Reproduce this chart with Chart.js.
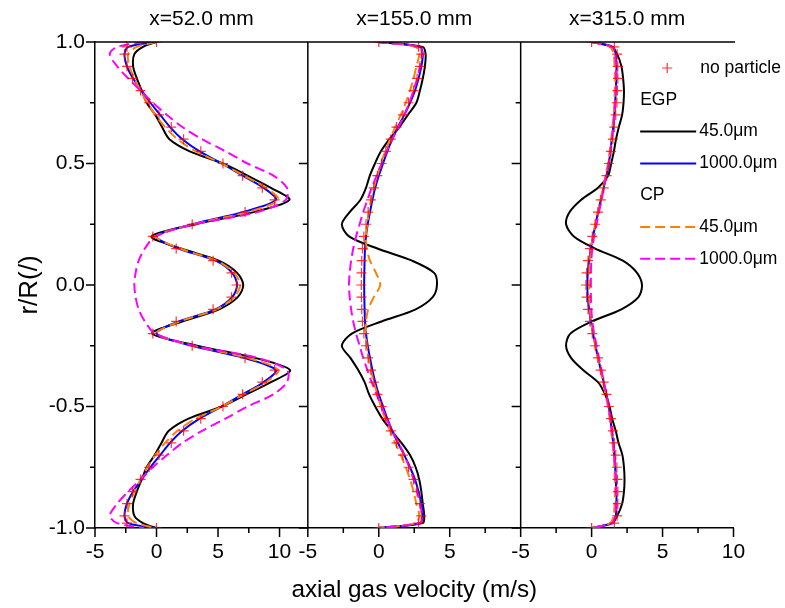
<!DOCTYPE html>
<html>
<head>
<meta charset="utf-8">
<title>axial gas velocity</title>
<script src="https://cdn.jsdelivr.net/npm/chart.js@4.4.0/dist/chart.umd.min.js"></script>
<style>
  html, body { margin: 0; padding: 0; background: #fff; }
</style>
</head>
<body>
<canvas id="myChart" width="785" height="608"></canvas>
<script>
'use strict'

// radial position r/R shared by every series (top wall to bottom wall)
const rPos = [1.0, 0.98, 0.95, 0.9, 0.85, 0.8, 0.75, 0.7, 0.65, 0.6, 0.55, 0.5, 0.45, 0.4, 0.35, 0.3, 0.25, 0.2, 0.15, 0.1, 0.05, 0.0,
  -0.05, -0.1, -0.15, -0.2, -0.25, -0.3, -0.35, -0.4, -0.45, -0.5, -0.55, -0.6, -0.65, -0.7, -0.75, -0.8, -0.85, -0.9, -0.95, -0.98, -1.0];

const panelTitles = ['x=52.0 mm', 'x=155.0 mm', 'x=315.0 mm'];
const panelMax = [12.3, 10, 10];
const xTickValues = [-5, -2.5, 0, 2.5, 5, 7.5, 10];
const yTickValues = [-1, -0.75, -0.5, -0.25, 0, 0.25, 0.5, 0.75, 1];
const xAxisTitle = 'axial gas velocity (m/s)';
const legendLabels = ['no particle', 'EGP', '45.0μm', '1000.0μm', 'CP', '45.0μm', '1000.0μm'];

// x = 52.0 mm
const egp45_52 = [0, -1.1, -1.8, -1.9, -1.6, -1.2, -0.8, -0.1, 0.45, 1.05, 2.7, 5.4, 7.4, 9.3, 10.8, 7.9, 3.2, -0.4, 2.0, 5.05, 6.55, 7.05,
  6.6, 5.1, 2.1, -0.35, 3.3, 8.0, 10.85, 9.3, 7.3, 5.3, 2.6, 1.0, 0.4, -0.15, -0.8, -1.2, -1.6, -1.9, -1.8, -1.1, 0];
const egp1000_52 = [-0.1, -2.3, -2.6, -2.4, -1.9, -1.2, -0.5, 0.3, 1.1, 2.1, 3.5, 5.3, 7.0, 8.7, 9.7, 7.0, 2.9, 0.0, 1.8, 4.8, 6.15, 6.55,
  6.15, 4.8, 1.8, 0.0, 2.9, 7.1, 9.7, 8.7, 7.0, 5.3, 3.5, 2.1, 1.1, 0.3, -0.5, -1.2, -1.9, -2.4, -2.6, -2.3, -0.1];
const cp45_52 = [0, -1.6, -2.3, -2.2, -1.8, -1.3, -0.75, -0.1, 0.7, 1.7, 3.2, 5.3, 7.1, 8.9, 9.9, 7.4, 3.0, 0.0, 1.9, 4.9, 6.3, 6.8,
  6.3, 4.9, 1.9, 0.0, 3.0, 7.4, 9.9, 8.9, 7.1, 5.3, 3.2, 1.7, 0.7, -0.1, -0.75, -1.3, -1.8, -2.2, -2.3, -1.6, 0];
const cp1000_52 = [-1.0, -3.2, -3.8, -3.2, -2.3, -1.3, -0.3, 0.85, 2.1, 3.7, 5.6, 7.4, 9.5, 10.6, 10.5, 8.2, 3.1, -0.1, -0.95, -1.45, -1.7, -1.8,
  -1.7, -1.45, -0.95, -0.1, 3.1, 8.2, 10.6, 10.6, 9.5, 7.4, 5.6, 3.7, 2.1, 0.85, -0.3, -1.3, -2.3, -3.2, -3.8, -3.2, -1.0];
const noPart_52 = [0, -2.4, -2.6, -2.4, -1.95, -1.3, -0.6, 0.2, 1.2, 2.2, 3.6, 5.4, 7.0, 8.6, 9.6, 7.2, 2.9, -0.3, 1.6, 4.6, 6.1, 6.5,
  6.1, 4.6, 1.6, -0.3, 2.9, 7.2, 9.6, 8.6, 7.0, 5.4, 3.6, 2.2, 1.2, 0.2, -0.6, -1.3, -1.95, -2.4, -2.6, -2.4, 0];

// x = 155.0 mm
const egp45_155 = [0, 3.1, 3.3, 3.25, 3.1, 2.9, 2.65, 2.05, 1.45, 0.75, 0.15, -0.27, -0.63, -0.9, -1.3, -2.05, -2.6, -2.1, -0.1, 2.35, 3.9, 4.1,
  3.8, 2.6, 0.2, -1.9, -2.6, -2.0, -1.45, -1.0, -0.68, -0.25, 0.25, 0.9, 1.6, 2.2, 2.6, 2.85, 3.0, 3.1, 3.2, 3.1, 0];
const egp1000_155 = [0, 2.9, 3.1, 3.0, 2.8, 2.55, 2.2, 1.8, 1.35, 0.95, 0.6, 0.3, 0.0, -0.25, -0.45, -0.62, -0.78, -0.9, -0.97, -1.0, -1.02, -1.03,
  -1.02, -1.0, -0.97, -0.9, -0.78, -0.62, -0.45, -0.25, 0.0, 0.3, 0.6, 0.95, 1.35, 1.8, 2.2, 2.55, 2.8, 3.0, 3.1, 2.9, 0];
const cp45_155 = [0, 2.6, 2.85, 2.65, 2.45, 2.2, 1.9, 1.55, 1.15, 0.8, 0.45, 0.15, -0.1, -0.35, -0.55, -0.7, -0.82, -0.9, -0.85, -0.62, -0.2, 0.1,
  -0.35, -0.75, -0.9, -0.92, -0.85, -0.72, -0.55, -0.35, -0.1, 0.15, 0.45, 0.8, 1.15, 1.55, 1.9, 2.2, 2.45, 2.65, 2.85, 2.6, 0];
const cp1000_155 = [-0.1, 2.9, 3.05, 2.9, 2.7, 2.45, 2.15, 1.8, 1.4, 0.95, 0.55, 0.2, -0.15, -0.5, -0.8, -1.1, -1.35, -1.6, -1.8, -1.95, -2.05, -2.1,
  -2.05, -1.95, -1.8, -1.6, -1.35, -1.1, -0.8, -0.5, -0.15, 0.2, 0.55, 0.95, 1.4, 1.8, 2.15, 2.45, 2.7, 2.9, 3.05, 2.9, -0.1];
const noPart_155 = [0, 2.8, 3.0, 2.9, 2.7, 2.45, 2.1, 1.7, 1.25, 0.85, 0.5, 0.2, -0.1, -0.35, -0.55, -0.75, -0.9, -1.05, -1.15, -1.2, -1.22, -1.23,
  -1.22, -1.2, -1.15, -1.05, -0.9, -0.75, -0.55, -0.35, -0.1, 0.2, 0.5, 0.85, 1.25, 1.7, 2.1, 2.45, 2.7, 2.9, 3.0, 2.8, 0];

// x = 315.0 mm
const egp45_315 = [0, 1.4, 1.8, 2.1, 2.22, 2.28, 2.25, 2.15, 1.92, 1.72, 1.57, 1.38, 1.16, 0.45, -0.75, -1.55, -1.8, -1.25, 0.25, 2.2, 3.2, 3.55,
  3.3, 2.1, 0.0, -1.5, -1.8, -1.45, -0.6, 0.45, 0.95, 1.26, 1.45, 1.7, 1.9, 2.17, 2.28, 2.32, 2.28, 2.15, 1.8, 1.4, 0];
const egp1000_315 = [0, 1.5, 1.7, 1.75, 1.74, 1.7, 1.66, 1.6, 1.52, 1.42, 1.32, 1.22, 1.05, 0.85, 0.65, 0.45, 0.28, 0.1, -0.05, -0.18, -0.27, -0.3,
  -0.27, -0.18, -0.05, 0.1, 0.28, 0.45, 0.65, 0.85, 1.05, 1.22, 1.32, 1.42, 1.52, 1.6, 1.66, 1.7, 1.74, 1.75, 1.7, 1.5, 0];
const cp45_315 = [0, 1.3, 1.55, 1.62, 1.65, 1.63, 1.6, 1.55, 1.47, 1.38, 1.27, 1.15, 0.98, 0.8, 0.62, 0.43, 0.26, 0.1, -0.03, -0.12, -0.17, -0.18,
  -0.17, -0.12, -0.03, 0.1, 0.26, 0.43, 0.62, 0.8, 0.98, 1.15, 1.27, 1.38, 1.47, 1.55, 1.6, 1.63, 1.65, 1.62, 1.55, 1.3, 0];
const cp1000_315 = [0, 1.45, 1.65, 1.72, 1.72, 1.7, 1.66, 1.6, 1.52, 1.43, 1.32, 1.2, 1.03, 0.86, 0.7, 0.52, 0.35, 0.18, 0.05, -0.02, -0.05, -0.05,
  -0.05, -0.02, 0.05, 0.18, 0.35, 0.52, 0.7, 0.86, 1.03, 1.2, 1.32, 1.43, 1.52, 1.6, 1.66, 1.7, 1.72, 1.72, 1.65, 1.45, 0];
const noPart_315 = [0, 1.6, 1.8, 1.85, 1.85, 1.82, 1.78, 1.7, 1.6, 1.5, 1.37, 1.22, 1.05, 0.85, 0.65, 0.45, 0.25, 0.05, -0.12, -0.25, -0.35, -0.4,
  -0.35, -0.25, -0.12, 0.05, 0.25, 0.45, 0.65, 0.85, 1.05, 1.22, 1.37, 1.5, 1.6, 1.7, 1.78, 1.82, 1.85, 1.85, 1.8, 1.6, 0];

const FONT = '"Liberation Sans", Arial, sans-serif';

// line styles for the five series kinds
const styles = {
  egp45: {color: '#000000', dash: []},
  egp1000: {color: '#0000ff', dash: []},
  cp45: {color: '#ff8000', dash: [10, 5]},
  cp1000: {color: '#ff00ff', dash: [10, 5]},
  noPart: {color: 'rgba(255, 0, 0, 0.8)'}
};

function toPoints(values) {
  return values.map((v, i) => ({x: v, y: rPos[i]}));
}

function curve(label, values, axis, style, order) {
  return {
    label: label,
    data: toPoints(values),
    xAxisID: axis,
    showLine: true,
    tension: 0.3,
    borderColor: style.color,
    borderWidth: 2,
    borderDash: style.dash,
    pointRadius: 0,
    order: order
  };
}

function markers(values, axis) {
  return {
    label: 'no particle',
    data: toPoints(values),
    xAxisID: axis,
    showLine: false,
    pointStyle: 'cross',
    pointRadius: 5,
    borderWidth: 1.2,
    borderColor: styles.noPart.color,
    backgroundColor: styles.noPart.color,
    order: 0
  };
}

const panelData = [
  [egp45_52, egp1000_52, cp45_52, cp1000_52, noPart_52],
  [egp45_155, egp1000_155, cp45_155, cp1000_155, noPart_155],
  [egp45_315, egp1000_315, cp45_315, cp1000_315, noPart_315]
];

let datasets = [];
for (let i = 0; i < panelData.length; i++) {
  const axis = 'x' + (i + 1);
  const d = panelData[i];
  datasets.push(curve('EGP 45.0μm', d[0], axis, styles.egp45, 4));
  datasets.push(curve('EGP 1000.0μm', d[1], axis, styles.egp1000, 3));
  datasets.push(curve('CP 45.0μm', d[2], axis, styles.cp45, 2));
  datasets.push(curve('CP 1000.0μm', d[3], axis, styles.cp1000, 1));
  datasets.push(markers(d[4], axis));
}

function isMultiple(v, step) {
  return Math.abs(v / step - Math.round(v / step)) < 1e-6;
}

function makeXScale(i) {
  return {
    type: 'linear',
    position: 'bottom',
    stack: 'panels',
    stackWeight: 1,
    min: -5,
    max: panelMax[i],
    border: {display: true, color: '#000', width: 1.5},
    grid: {display: false, drawTicks: false},
    afterBuildTicks: function(scale) {
      scale.ticks = xTickValues.map(v => ({value: v}));
    },
    ticks: {
      autoSkip: false,
      maxRotation: 0,
      padding: 12,
      color: '#000',
      font: {family: FONT, size: 21},
      callback: function(v) {
        if (!isMultiple(v, 5)) return '';
        if (i === 1 && v === 10) return '';
        return String(v);
      }
    },
    afterFit: function(scale) {
      scale.height = 80;
      scale.paddingLeft = 0;
      scale.paddingRight = 0;
    }
  };
}

// frame: top edge, panel separators, tick marks and shared titles
const framePlugin = {
  id: 'frame',
  afterDatasetsDraw(chart) {
    const {ctx, chartArea, scales} = chart;
    const yScale = scales.y;
    const xs = [scales.x1, scales.x2, scales.x3];
    ctx.save();
    ctx.strokeStyle = '#000';
    ctx.lineWidth = 1.5;
    ctx.beginPath();
    ctx.moveTo(chartArea.left - 0.75, chartArea.top);
    ctx.lineTo(chartArea.right + 1.5, chartArea.top);
    [xs[0].right, xs[1].right].forEach(px => {
      ctx.moveTo(px, chartArea.top);
      ctx.lineTo(px, chartArea.bottom);
    });
    const edges = [chartArea.left, xs[0].right, xs[1].right];
    yScale.ticks.forEach(t => {
      const py = yScale.getPixelForValue(t.value);
      const len = isMultiple(t.value, 0.5) ? 9 : 5;
      edges.forEach(px => {
        ctx.moveTo(px, py);
        ctx.lineTo(px - len, py);
      });
    });
    xs.forEach(s => {
      s.ticks.forEach(t => {
        const px = s.getPixelForValue(t.value);
        const len = isMultiple(t.value, 5) ? 9 : 5;
        ctx.moveTo(px, chartArea.bottom);
        ctx.lineTo(px, chartArea.bottom + len);
      });
    });
    ctx.stroke();

    ctx.fillStyle = '#000';
    ctx.textAlign = 'center';
    ctx.textBaseline = 'middle';
    ctx.font = '21px ' + FONT;
    xs.forEach((s, i) => {
      ctx.fillText(panelTitles[i], (s.left + s.right) / 2, 19);
    });
    ctx.font = '24.3px ' + FONT;
    ctx.fillText(xAxisTitle, (chartArea.left + chartArea.right) / 2, 590);
    ctx.restore();
  }
};

// legend in the right panel
const legendPlugin = {
  id: 'panelLegend',
  afterDraw(chart) {
    const {ctx, chartArea} = chart;
    const left = chart.scales.x3.left + 119.5;
    const top = chartArea.top + 26;
    const rowH = 31.8;
    const kinds = ['marker', 'header', 'egp45', 'egp1000', 'header', 'cp45', 'cp1000'];
    ctx.save();
    ctx.font = '17.5px ' + FONT;
    ctx.textBaseline = 'middle';
    ctx.fillStyle = '#000';
    kinds.forEach((kind, i) => {
      const y = top + i * rowH;
      const text = legendLabels[i];
      if (kind === 'header') {
        ctx.fillText(text, left, y);
        return;
      }
      if (kind === 'marker') {
        ctx.strokeStyle = styles.noPart.color;
        ctx.lineWidth = 1.2;
        ctx.beginPath();
        ctx.moveTo(left + 22, y);
        ctx.lineTo(left + 32, y);
        ctx.moveTo(left + 27, y - 5);
        ctx.lineTo(left + 27, y + 5);
        ctx.stroke();
        ctx.fillText(text, left + 60, y);
        return;
      }
      ctx.strokeStyle = styles[kind].color;
      ctx.lineWidth = 2;
      ctx.setLineDash(styles[kind].dash);
      ctx.beginPath();
      ctx.moveTo(left, y);
      ctx.lineTo(left + 56, y);
      ctx.stroke();
      ctx.setLineDash([]);
      ctx.fillText(text, left + 59, y);
    });
    ctx.restore();
  }
};

const config = {
  type: 'scatter',
  data: {datasets: datasets},
  options: {
    responsive: false,
    devicePixelRatio: 1,
    animation: false,
    events: [],
    layout: {
      autoPadding: false,
      padding: {top: 42, right: 51.5, bottom: 0, left: 0}
    },
    plugins: {
      legend: {display: false},
      tooltip: {enabled: false}
    },
    scales: {
      y: {
        type: 'linear',
        position: 'left',
        min: -1,
        max: 1,
        border: {display: true, color: '#000', width: 1.5},
        grid: {display: false, drawTicks: false},
        afterBuildTicks: function(scale) {
          scale.ticks = yTickValues.map(v => ({value: v}));
        },
        ticks: {
          autoSkip: false,
          padding: 10,
          color: '#000',
          font: {family: FONT, size: 21},
          callback: v => (isMultiple(v, 0.5) ? v.toFixed(1) : '')
        },
        title: {
          display: true,
          text: 'r/R(/)',
          color: '#000',
          font: {family: FONT, size: 26},
          padding: {top: 14, bottom: 0}
        },
        afterFit: function(scale) {
          scale.width = 95;
          scale.paddingTop = 0;
          scale.paddingBottom = 0;
        }
      },
      x1: makeXScale(0),
      x2: makeXScale(1),
      x3: makeXScale(2)
    }
  },
  plugins: [framePlugin, legendPlugin]
};

let canvasChart = document.getElementById('myChart');
const myChart = new Chart(canvasChart, config);
</script>
</body>
</html>
